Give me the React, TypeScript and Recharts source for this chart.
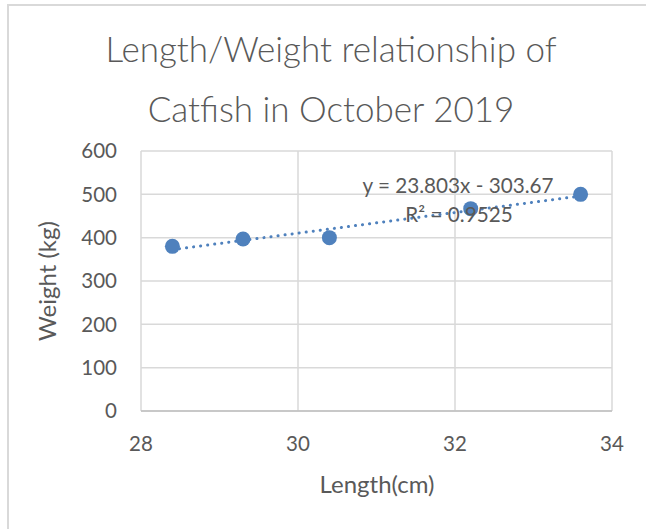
import React from 'react';
import { ScatterChart, Scatter, XAxis, YAxis, CartesianGrid, ReferenceLine } from 'recharts';

const titleLines = ['Length/Weight relationship of', 'Catfish in October 2019'];
const lengths = [28.4, 29.3, 30.4, 32.2, 33.6];
const weights = [380, 397, 400, 467, 500];
const xTicks = [28, 30, 32, 34];
const yTicks = [0, 100, 200, 300, 400, 500, 600];
const trendSlope = 23.803;
const trendIntercept = -303.67;
const trendLabel = 'y = 23.803x - 303.67';
const r2Label = 'R² = 0.9525';
const xLabel = 'Length(cm)';
const yLabel = 'Weight (kg)';

const BLUE = '#4F81BD';
const TEXT = '#595959';
const FONT = 'Lato, "Open Sans", sans-serif';

const data = lengths.map((x, i) => ({ x, y: weights[i] }));
const xMin = Math.min(...lengths);
const xMax = Math.max(...lengths);
const trendSegment = [
  { x: xMin, y: trendSlope * xMin + trendIntercept },
  { x: xMax, y: trendSlope * xMax + trendIntercept },
];

const Dot = (props: any) => <circle cx={props.cx} cy={props.cy} r={7.5} fill={BLUE} />;

export default function App() {
  return (
    <div style={{ position: 'absolute', left: 0, top: 0, width: 646, height: 529, overflow: 'hidden', background: '#fff', fontFamily: FONT }}>
      <div style={{ position: 'absolute', left: 7, top: 4, width: 700, height: 600, borderLeft: '2px solid #d9d9d9', borderTop: '2px solid #d9d9d9', boxSizing: 'border-box' }} />
      <div style={{ position: 'absolute', left: 0, top: 0 }}>
        <ScatterChart width={646} height={529} margin={{ top: 151, right: 34, bottom: 0, left: 0 }}>
          <CartesianGrid stroke="#d9d9d9" strokeWidth={1.5} />
          <XAxis
            type="number"
            dataKey="x"
            domain={[28, 34]}
            ticks={xTicks}
            interval={0}
            height={118}
            tickSize={0}
            tickMargin={25}
            axisLine={{ stroke: '#bfbfbf', strokeWidth: 1.5 }}
            tickLine={false}
            tick={{ fill: TEXT, fontSize: 20.5, fontFamily: FONT }}
          />
          <YAxis
            type="number"
            dataKey="y"
            domain={[0, 600]}
            ticks={yTicks}
            interval={0}
            width={141}
            tickSize={0}
            tickMargin={24}
            axisLine={false}
            tickLine={false}
            tick={{ fill: TEXT, fontSize: 20.5, fontFamily: FONT }}
          />
          <ReferenceLine
            segment={trendSegment}
            stroke={BLUE}
            strokeWidth={3}
            strokeDasharray="0.1 7"
            strokeLinecap="round"
          />
          <Scatter data={data} fill={BLUE} shape={Dot} isAnimationActive={false} />
        </ScatterChart>
      </div>
      <svg width={646} height={529} style={{ position: 'absolute', left: 0, top: 0, pointerEvents: 'none' }}>
        <g fill={TEXT} fontFamily={FONT}>
          <text x={331} y={62} fontSize={35} textAnchor="middle" fontWeight={300}>{titleLines[0]}</text>
          <text x={331} y={121.5} fontSize={35} textAnchor="middle" fontWeight={300}>{titleLines[1]}</text>
          <text x={458} y={193} fontSize={20.7} textAnchor="middle">{trendLabel}</text>
          <text x={459} y={222} fontSize={20.7} textAnchor="middle">{r2Label}</text>
          <text x={377} y={493} fontSize={24} textAnchor="middle">{xLabel}</text>
          <text transform="translate(56,281) rotate(-90)" x={0} y={0} fontSize={24} textAnchor="middle">{yLabel}</text>
        </g>
      </svg>
    </div>
  );
}
